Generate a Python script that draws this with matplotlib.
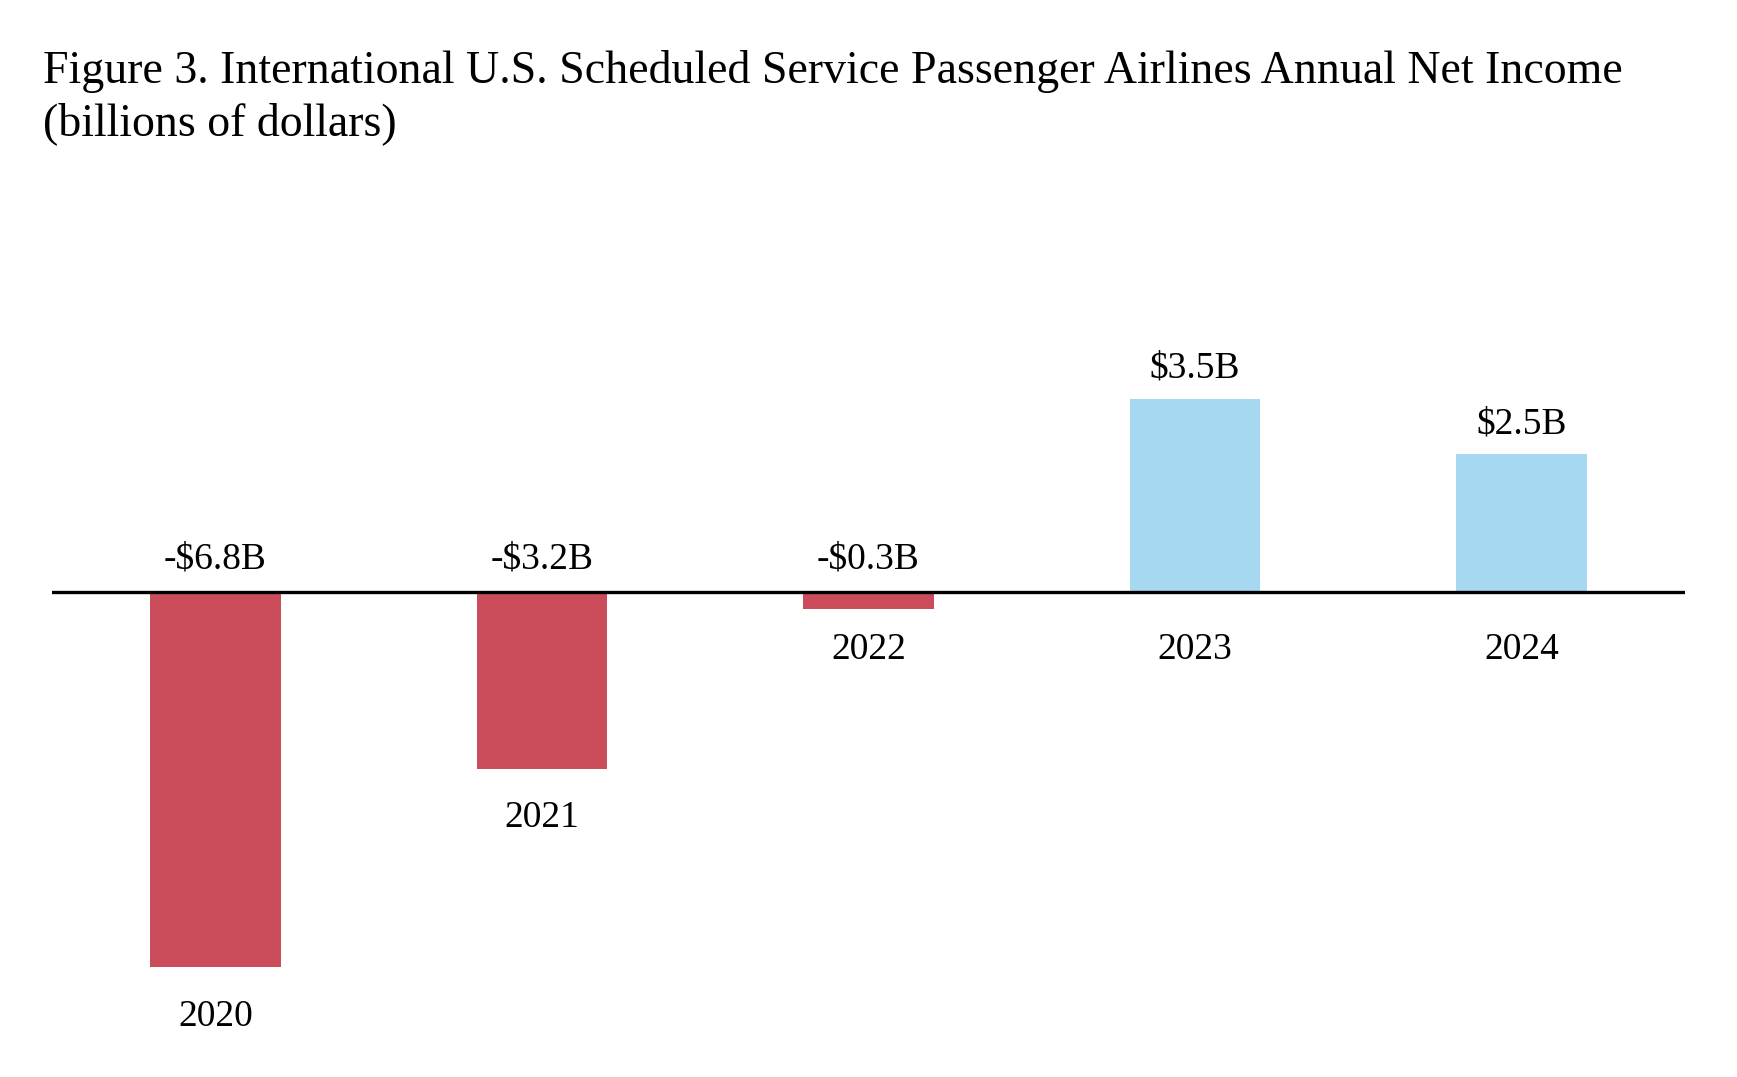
import matplotlib
matplotlib.use('Agg')
import matplotlib.pyplot as plt

# data (billions of dollars)
years = ['2020', '2021', '2022', '2023', '2024']
net_income = [-6.8, -3.2, -0.3, 3.5, 2.5]

title_line1 = 'Figure 3. International U.S. Scheduled Service Passenger Airlines Annual Net Income'
title_line2 = '(billions of dollars)'

red = '#CB4C5B'
blue = '#A6D8F2'

plt.rcParams['font.family'] = ['Liberation Serif', 'DejaVu Serif']

W, H = 1737, 1077
fig = plt.figure(figsize=(W / 100, H / 100), dpi=100)

# axes placed in pixel terms: zero line at y=592, 55.2 px per billion
ax_left, ax_right = 52, 1685
ax_top, ax_bottom = 300, 1060
zero_px = 592
px_per_b = 55.2
ax = fig.add_axes([ax_left / W, (H - ax_bottom) / H,
                   (ax_right - ax_left) / W, (ax_bottom - ax_top) / H])
ax.set_xlim(-0.5, 4.5)
ax.set_ylim(-(ax_bottom - zero_px) / px_per_b, (zero_px - ax_top) / px_per_b)
ax.axis('off')

x = list(range(len(years)))
colors = [red if v < 0 else blue for v in net_income]
ax.bar(x, net_income, width=0.4, color=colors, zorder=2)
ax.axhline(0, color='black', lw=2.4, zorder=3)

fs = 27
for xi, v, yr in zip(x, net_income, years):
    if v < 0:
        lab = '-$%.1fB' % abs(v)
        ax.annotate(lab, (xi, 0), xytext=(0, 17), textcoords='offset points',
                    ha='center', va='baseline', fontsize=fs)
    else:
        lab = '$%.1fB' % v
        ax.annotate(lab, (xi, v), xytext=(0, 15), textcoords='offset points',
                    ha='center', va='baseline', fontsize=fs)
    # year under the bar end, or under the axis line for short bars
    if v < -1:
        ax.annotate(yr, (xi, v), xytext=(0, -42), textcoords='offset points',
                    ha='center', va='baseline', fontsize=fs)
    else:
        ax.annotate(yr, (xi, 0), xytext=(0, -48), textcoords='offset points',
                    ha='center', va='baseline', fontsize=fs)

fig.text(43 / W, 1 - 83 / H, title_line1, fontsize=33, va='baseline', ha='left')
fig.text(43 / W, 1 - 135 / H, title_line2, fontsize=33, va='baseline', ha='left')

fig.savefig('out.png', dpi=100)
